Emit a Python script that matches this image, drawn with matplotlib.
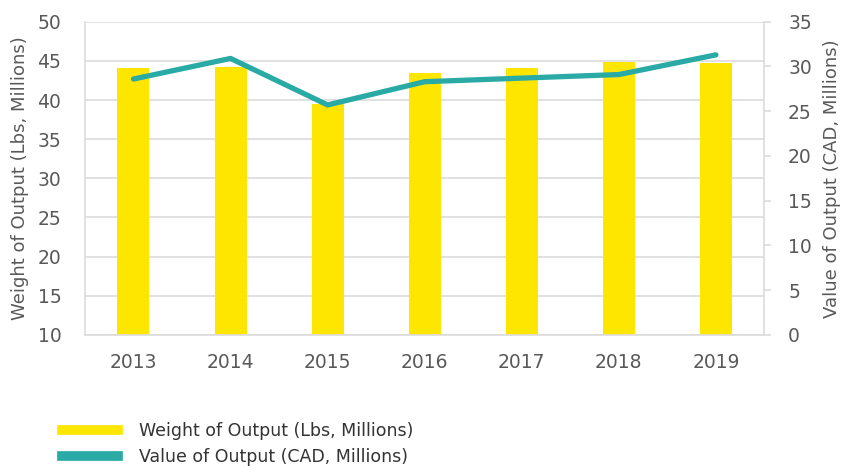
import matplotlib.pyplot as plt
from matplotlib.lines import Line2D

years = ['2013', '2014', '2015', '2016', '2017', '2018', '2019']
weight = [44.1, 44.2, 39.5, 43.5, 44.1, 44.8, 44.7]
value = [28.6, 30.9, 25.7, 28.3, 28.7, 29.1, 31.3]

yellow = '#FFE600'
teal = '#2AAAA5'
grid = '#DCDCDC'
txt = '#595959'

plt.rcParams['font.family'] = ['DejaVu Sans']

fig = plt.figure(figsize=(8.41, 4.73), dpi=100)
ax = fig.add_axes([0.101, 0.292, 0.808, 0.662])
ax2 = ax.twinx()

x = list(range(len(years)))
ax.bar(x, weight, width=0.33, color=yellow, zorder=2)
ax2.plot(x, value, color=teal, linewidth=3.8, solid_capstyle='round', zorder=3)

ax.set_xlim(-0.5, 6.5)
ax.set_ylim(10, 50)
ax.set_yticks(range(10, 51, 5))
ax2.set_ylim(0, 35)
ax2.set_yticks(range(0, 36, 5))
ax.set_xticks(x)
ax.set_xticklabels(years)

ax.yaxis.grid(True, color=grid, linewidth=1.2, zorder=0)
ax.set_axisbelow(True)

for a in (ax, ax2):
    for s in a.spines.values():
        s.set_visible(False)
ax.spines['left'].set_visible(True)
ax.spines['left'].set_color(grid)
ax.spines['left'].set_linewidth(1.2)
ax.spines['bottom'].set_visible(True)
ax.spines['bottom'].set_color(grid)
ax.spines['bottom'].set_linewidth(1.2)
ax2.spines['right'].set_visible(True)
ax2.spines['right'].set_color(grid)
ax2.spines['right'].set_linewidth(1.2)

ax.tick_params(axis='y', length=0, pad=17, labelsize=13.5, labelcolor=txt)
ax.tick_params(axis='x', length=0, pad=13, labelsize=13.5, labelcolor=txt)
ax2.tick_params(axis='y', length=5, width=1.2, color=grid, pad=12,
                labelsize=13.5, labelcolor=txt)

ax.set_ylabel('Weight of Output (Lbs, Millions)', fontsize=13, color=txt, labelpad=6)
ax2.set_ylabel('Value of Output (CAD, Millions)', fontsize=13, color=txt,
               rotation=90, labelpad=8)

handles = [Line2D([0], [0], color=yellow, linewidth=7),
           Line2D([0], [0], color=teal, linewidth=7)]
fig.legend(handles, ['Weight of Output (Lbs, Millions)', 'Value of Output (CAD, Millions)'],
           loc='upper left', bbox_to_anchor=(0.074, 0.108), frameon=False,
           borderpad=0, borderaxespad=0,
           fontsize=12.5, handlelength=3.2, handletextpad=1.2, labelspacing=0.45,
           labelcolor='#333333')

fig.savefig('out.png', dpi=100)
